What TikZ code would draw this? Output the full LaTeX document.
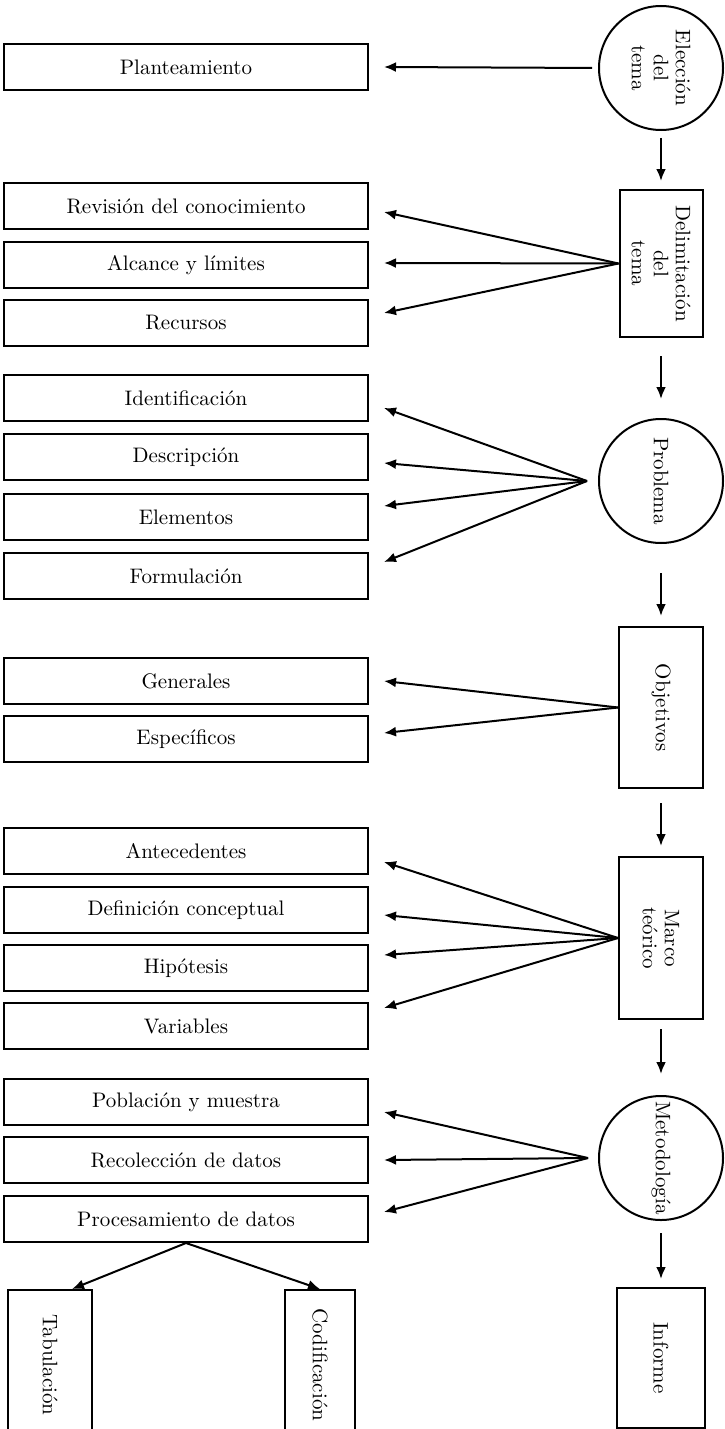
\documentclass[tikz,border=0pt]{standalone}
\usepackage{tikz}
\usetikzlibrary{arrows.meta}

\begin{document}
\begin{tikzpicture} [x=0.5pt,y=-0.5pt,
            topic/.style={draw,line width=1pt,minimum width=182pt,minimum height=23pt,inner sep=0pt,font=\fontsize{10.5}{12}\selectfont},
            stage/.style={draw,line width=1pt,rotate=-90,inner sep=0pt,font=\fontsize{10.5}{11}\selectfont},
            hub/.style={stage,circle,minimum size=62pt},
            fan/.style={->,line width=1pt},
            flow/.style={->,line width=1.2pt},
            >={Latex[length=6pt,width=5pt]},
         every node/.append style={align=center}]

\useasboundingbox (0,0) rectangle (724,1429);

%Eleccion
\node (elec) at (661,68) [hub] {Elección\\del\\tema};
\node (plan) at (186,67) [topic] {Planteamiento};
\draw [fan,shorten <=3pt] (elec.south) -- ([xshift=7.5pt]plan.east);

%Delimitacion
\node (delim) at (661,263.5) [stage,minimum width=73.5pt,minimum height=41.5pt] {Delimitación\\del\\tema};
\node (rev) at (186,206) [topic] {Revisión del conocimiento};
\node (alc) at (186,265) [topic] {Alcance y límites};
\node (rec) at (186,323) [topic] {Recursos};
\draw [fan] (delim.south) -- ([xshift=7.5pt,yshift=-3pt]rev.east);
\draw [fan] (delim.south) -- ([xshift=7.5pt,yshift=1pt]alc.east);
\draw [fan] (delim.south) -- ([xshift=7.5pt,yshift=5pt]rec.east);

%Problema
\node (prob) at (661,481) [hub] {Problema};
\node (ident) at (186,398) [topic] {Identificación};
\node (desc) at (186,457) [topic] {Descripción};
\node (elem) at (186,517) [topic] {Elementos};
\node (form) at (186,576) [topic] {Formulación};
\draw [fan] ([xshift=-5.5pt]prob.south) -- ([xshift=7.5pt,yshift=-5pt]ident.east);
\draw [fan] ([xshift=-5.5pt]prob.south) -- ([xshift=7.5pt,yshift=-3pt]desc.east);
\draw [fan] ([xshift=-5.5pt]prob.south) -- ([xshift=7.5pt,yshift=5.5pt]elem.east);
\draw [fan] ([xshift=-5.5pt]prob.south) -- ([xshift=7.5pt,yshift=7pt]form.east);

%Objetivos
\node (obj) at (661,707.5) [stage,minimum width=80.5pt,minimum height=42pt] {Objetivos};
\node (gen) at (186,681) [topic] {Generales};
\node (esp) at (186,739) [topic] {Específicos};
\draw [fan] (obj.south) -- ([xshift=7.5pt]gen.east);
\draw [fan] (obj.south) -- ([xshift=7.5pt,yshift=3pt]esp.east);

%Marco
\node (marco) at (661,938) [stage,minimum width=81pt,minimum height=42pt] {Marco\\teórico};
\node (ant) at (186,851) [topic] {Antecedentes};
\node (def) at (186,910) [topic] {Definición conceptual};
\node (hip) at (186,968) [topic] {Hipótesis};
\node (var) at (186,1026) [topic] {Variables};
\draw [fan] (marco.south) -- ([xshift=7.5pt,yshift=-5.5pt]ant.east);
\draw [fan] (marco.south) -- ([xshift=7.5pt,yshift=-2.5pt]def.east);
\draw [fan] (marco.south) -- ([xshift=7.5pt,yshift=6.5pt]hip.east);
\draw [fan] (marco.south) -- ([xshift=7.5pt,yshift=9pt]var.east);

%Metodologia
\node (metod) at (661,1158) [hub] {Metodología};
\node (pob) at (186,1102) [topic] {Población y muestra};
\node (recol) at (186,1160) [topic] {Recolección de datos};
\node (proc) at (186,1219) [topic] {Procesamiento de datos};
\draw [fan] ([xshift=-5pt]metod.south) -- ([xshift=7.5pt,yshift=-5pt]pob.east);
\draw [fan] ([xshift=-5pt]metod.south) -- ([xshift=7.5pt]recol.east);
\draw [fan] ([xshift=-5pt]metod.south) -- ([xshift=7.5pt,yshift=3.5pt]proc.east);

%Procesamiento
\node (tab) at (50,1365) [stage,minimum width=75pt,minimum height=42pt] {Tabulación};
\node (cod) at (320,1365) [stage,minimum width=75pt,minimum height=35pt] {Codificación};
\draw [fan] (proc.south) -- ([xshift=11pt]tab.west);
\draw [fan] (proc.south) -- (cod.west);

%Informe
\node (inf) at (661,1358) [stage,minimum width=70pt,minimum height=44pt] {Informe};

% main line
\draw [flow,shorten <=3.5pt,shorten >=4pt] (elec) -- (delim);
\draw [flow,shorten <=9pt,shorten >=9.5pt] (delim) -- (prob);
\draw [flow,shorten <=14.5pt,shorten >=5pt] (prob) -- (obj);
\draw [flow,shorten <=7pt,shorten >=5pt] (obj) -- (marco);
\draw [flow,shorten <=4.5pt,shorten >=10.5pt] (marco) -- (metod);
\draw [flow,shorten <=6pt,shorten >=4pt] (metod) -- (inf);

\end{tikzpicture}
\end{document}
